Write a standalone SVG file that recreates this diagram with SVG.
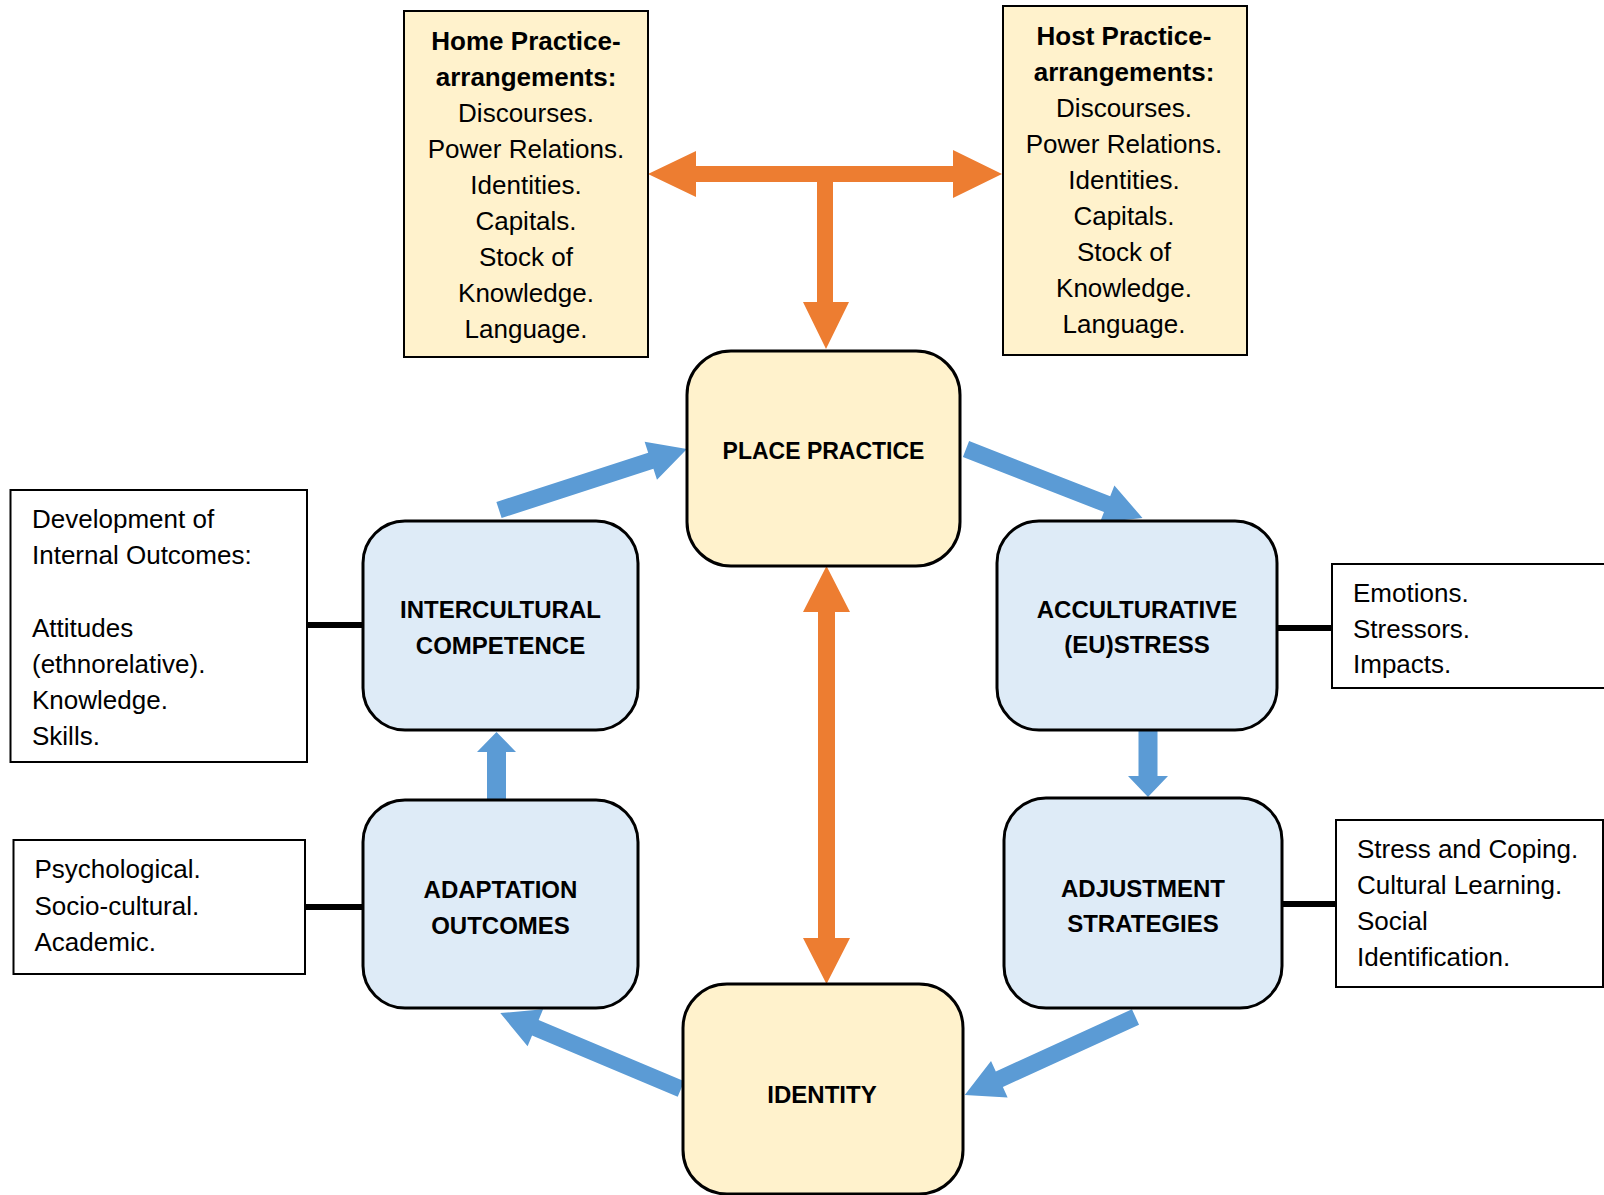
<svg xmlns="http://www.w3.org/2000/svg" width="1604" height="1195" viewBox="0 0 1604 1195">
<style>
.txt{font-family:"Liberation Sans",Arial,sans-serif;font-size:26px;fill:#000}
.c{text-anchor:middle}
.b{font-weight:bold}
.lbl{font-family:"Liberation Sans",Arial,sans-serif;font-size:24px;font-weight:bold;text-anchor:middle;fill:#000}
.yel{fill:#FFF2CC;stroke:#000;stroke-width:3}
.blu{fill:#DEEBF7;stroke:#000;stroke-width:3}
.note{fill:#fff;stroke:#000;stroke-width:2}
.notey{fill:#FFF2CC;stroke:#000;stroke-width:2}
.orange{fill:#ED7D31}
.blue{fill:#5B9BD5}
.link{stroke:#000;stroke-width:6}
</style>
<rect width="1604" height="1195" fill="#fff"/>
<g id="connectors">
  <polygon class="orange" points="648,174 696,151 696,166 953,166 953,150 1002,174 953,198 953,182 696,182 696,197"/>
  <polygon class="orange" points="817,180 833,180 833,302 849,302 826,349 803,302 817,302"/>
  <polygon class="orange" points="826.5,566 850,612 835,612 835,938 850,938 826.5,984 803,938 818,938 818,612 803,612"/>
  <polygon class="blue" transform="translate(499,510) rotate(-17.98)" points="0,-8.5 159.6,-8.5 159.6,-20 197.6,0 159.6,20 159.6,8.5 0,8.5"/>
  <polygon class="blue" transform="translate(966,449) rotate(21.35)" points="0,-8.5 151.5,-8.5 151.5,-20 189.5,0 151.5,20 151.5,8.5 0,8.5"/>
  <polygon class="blue" points="1138.5,731 1157.5,731 1157.5,776 1168,776 1148,797 1128,776 1138.5,776"/>
  <polygon class="blue" transform="translate(1135.5,1017) rotate(155.45)" points="0,-8.5 149.7,-8.5 149.7,-20 187.7,0 149.7,20 149.7,8.5 0,8.5"/>
  <polygon class="blue" transform="translate(681,1089) rotate(-157.2)" points="0,-8.5 158,-8.5 158,-20 196,0 158,20 158,8.5 0,8.5"/>
  <polygon class="blue" points="487,799 506,799 506,752 516,752 496.5,732 477,752 487,752"/>
  <line class="link" x1="307" y1="625" x2="363" y2="625"/>
  <line class="link" x1="305" y1="907" x2="363" y2="907"/>
  <line class="link" x1="1277" y1="628" x2="1332" y2="628"/>
  <line class="link" x1="1282" y1="904" x2="1336" y2="904"/>
</g>
<g id="home">
  <rect class="notey" x="404" y="11" width="244" height="346"/>
  <text class="txt c b" x="526" y="50">Home Practice-</text>
  <text class="txt c b" x="526" y="86">arrangements:</text>
  <text class="txt c" x="526" y="122">Discourses.</text>
  <text class="txt c" x="526" y="158">Power Relations.</text>
  <text class="txt c" x="526" y="194">Identities.</text>
  <text class="txt c" x="526" y="230">Capitals.</text>
  <text class="txt c" x="526" y="266">Stock of</text>
  <text class="txt c" x="526" y="302">Knowledge.</text>
  <text class="txt c" x="526" y="338">Language.</text>
</g>
<g id="host">
  <rect class="notey" x="1003" y="6" width="244" height="349"/>
  <text class="txt c b" x="1124" y="45">Host Practice-</text>
  <text class="txt c b" x="1124" y="81">arrangements:</text>
  <text class="txt c" x="1124" y="117">Discourses.</text>
  <text class="txt c" x="1124" y="153">Power Relations.</text>
  <text class="txt c" x="1124" y="189">Identities.</text>
  <text class="txt c" x="1124" y="225">Capitals.</text>
  <text class="txt c" x="1124" y="261">Stock of</text>
  <text class="txt c" x="1124" y="297">Knowledge.</text>
  <text class="txt c" x="1124" y="333">Language.</text>
</g>
<g id="place-practice">
  <rect class="yel" x="687" y="351" width="273" height="215" rx="44"/>
  <text class="lbl" x="823.5" y="459" style="font-size:23px">PLACE PRACTICE</text>
</g>
<g id="intercultural-competence">
  <rect class="blu" x="363" y="521" width="275" height="209" rx="42"/>
  <text class="lbl" x="500.5" y="618">INTERCULTURAL</text>
  <text class="lbl" x="500.5" y="654">COMPETENCE</text>
</g>
<g id="acculturative">
  <rect class="blu" x="997" y="521" width="280" height="209" rx="42"/>
  <text class="lbl" x="1137" y="618">ACCULTURATIVE</text>
  <text class="lbl" x="1137" y="653">(EU)STRESS</text>
</g>
<g id="adaptation-outcomes">
  <rect class="blu" x="363" y="800" width="275" height="208" rx="42"/>
  <text class="lbl" x="500.5" y="898">ADAPTATION</text>
  <text class="lbl" x="500.5" y="934">OUTCOMES</text>
</g>
<g id="adjustment-strategies">
  <rect class="blu" x="1004" y="798" width="278" height="210" rx="42"/>
  <text class="lbl" x="1143" y="897">ADJUSTMENT</text>
  <text class="lbl" x="1143" y="932">STRATEGIES</text>
</g>
<g id="identity">
  <rect class="yel" x="683" y="984" width="280" height="210" rx="44"/>
  <text class="lbl" x="822" y="1103">IDENTITY</text>
</g>
<g id="development">
  <rect class="note" x="10.5" y="490" width="296.5" height="272"/>
  <text class="txt" x="32" y="528">Development of</text>
  <text class="txt" x="32" y="564">Internal Outcomes:</text>
  <text class="txt" x="32" y="637">Attitudes</text>
  <text class="txt" x="32" y="673">(ethnorelative).</text>
  <text class="txt" x="32" y="709">Knowledge.</text>
  <text class="txt" x="32" y="745">Skills.</text>
</g>
<g id="adaptation-types">
  <rect class="note" x="13.5" y="840" width="291.5" height="134"/>
  <text class="txt" x="34.5" y="878">Psychological.</text>
  <text class="txt" x="34.5" y="915">Socio-cultural.</text>
  <text class="txt" x="34.5" y="951">Academic.</text>
</g>
<g id="stress-notes">
  <rect class="note" x="1332" y="564" width="280" height="124"/>
  <text class="txt" x="1353" y="602">Emotions.</text>
  <text class="txt" x="1353" y="638">Stressors.</text>
  <text class="txt" x="1353" y="673">Impacts.</text>
</g>
<g id="strategy-notes">
  <rect class="note" x="1336" y="820" width="267" height="167"/>
  <text class="txt" x="1357" y="858">Stress and Coping.</text>
  <text class="txt" x="1357" y="894">Cultural Learning.</text>
  <text class="txt" x="1357" y="930">Social</text>
  <text class="txt" x="1357" y="966">Identification.</text>
</g>
</svg>
